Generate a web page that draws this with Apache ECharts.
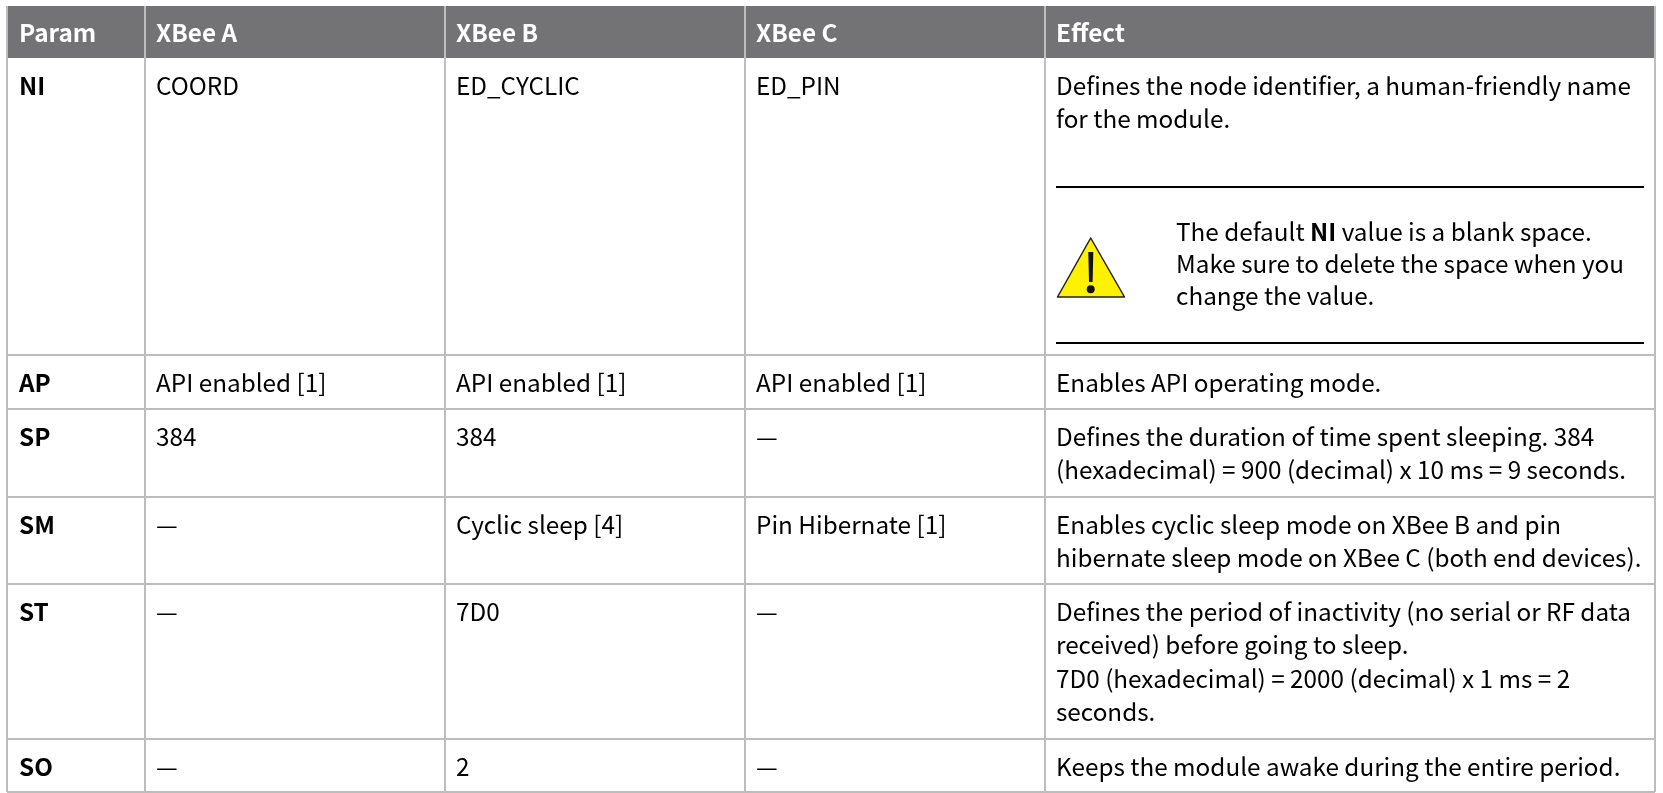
<!DOCTYPE html>
<html><head><meta charset="utf-8">
<style>html,body{margin:0;padding:0;background:#fff;overflow:hidden}#c{width:1663px;height:793px}</style>
<script src="https://cdn.jsdelivr.net/npm/echarts@6/dist/echarts.min.js"></script>
</head><body><div id="c"></div>
<script>
const headers = ['Param','XBee A','XBee B','XBee C','Effect'];
const params = ['NI','AP','SP','SM','ST','SO'];
const xbeeA = ['COORD','API enabled [1]','384','—','—','—'];
const xbeeB = ['ED_CYCLIC','API enabled [1]','384','Cyclic sleep [4]','7D0','2'];
const xbeeC = ['ED_PIN','API enabled [1]','—','Pin Hibernate [1]','—','—'];
const effects = [
 'Defines the node identifier, a human-friendly name\nfor the module.',
 'Enables API operating mode.',
 'Defines the duration of time spent sleeping. 384\n(hexadecimal) = 900 (decimal) x 10 ms = 9 seconds.',
 'Enables cyclic sleep mode on XBee B and pin\nhibernate sleep mode on XBee C (both end devices).',
 'Defines the period of inactivity (no serial or RF data\nreceived) before going to sleep.\n7D0 (hexadecimal) = 2000 (decimal) x 1 ms = 2\nseconds.',
 'Keeps the module awake during the entire period.'
];
const noteText = 'The default {b|NI} value is a blank space.\nMake sure to delete the space when you\nchange the value.';

const FONT = '"Noto Sans CJK JP"', FS = 24.3, LH = 33.5, NOTE_LH = 32;
const colX = [7,145,445,745,1045,1655];
const rowY = [6,58,355,409,497,584,739,792];
const g = [];
const txt = (x,y,t,o={}) => g.push({type:'text',x,y,silent:true,z:5,style:Object.assign({
  text:t,fill:'#000',fontFamily:FONT,fontSize:FS,lineHeight:LH,verticalAlign:'top'},o)});
const line = (x1,y1,x2,y2,c,w) => g.push({type:'line',silent:true,z:3,shape:{x1,y1,x2,y2},style:{stroke:c,lineWidth:w}});

g.push({type:'rect',silent:true,z:1,shape:{x:colX[0],y:rowY[0],width:colX[5]-colX[0],height:rowY[1]-rowY[0]},style:{fill:'#737375'}});
colX.forEach(x=>line(x,rowY[0],x,rowY[7],'#bdbdbd',2));
rowY.slice(2).forEach(y=>line(colX[0],y,colX[5],y,'#bdbdbd',2));

headers.forEach((h,i)=>txt(colX[i]+(i==0?12:11),16,h,{fill:'#fff',fontWeight:'bold'}));
params.forEach((p,i)=>{
  const y = rowY[i+1]+11;
  txt(colX[0]+12,y,p,{fontWeight:'bold'});
  txt(colX[1]+11,y,xbeeA[i]);
  txt(colX[2]+11,y,xbeeB[i]);
  txt(colX[3]+11,y,xbeeC[i]);
  txt(colX[4]+11,y,effects[i]);
});
// note block
line(1056,187,1644,187,'#000',2);
line(1056,343,1644,343,'#000',2);
g.push({type:'text',x:1176,y:216,silent:true,z:5,style:{
  text:noteText,fontFamily:FONT,fontSize:FS,lineHeight:NOTE_LH,fill:'#000',verticalAlign:'top',
  rich:{b:{fontFamily:FONT,fontSize:FS,fontWeight:'bold',lineHeight:NOTE_LH,fill:'#000'}}}});
g.push({type:'polygon',silent:true,z:5,shape:{points:[[1090.7,238],[1057.5,297],[1124.5,297]]},style:{fill:'#fff200',stroke:'#222',lineWidth:1.5,lineJoin:'round'}});
g.push({type:'polygon',silent:true,z:6,shape:{points:[[1088.3,252],[1093.3,252],[1092.6,282],[1089,282]]},style:{fill:'#111'}});
g.push({type:'circle',silent:true,z:6,shape:{cx:1090.7,cy:289.3,r:4},style:{fill:'#111'}});

const chart = echarts.init(document.getElementById('c'),null,{renderer:'canvas'});
chart.setOption({animation:false,backgroundColor:'#fff',graphic:{elements:g}});
</script></body></html>
